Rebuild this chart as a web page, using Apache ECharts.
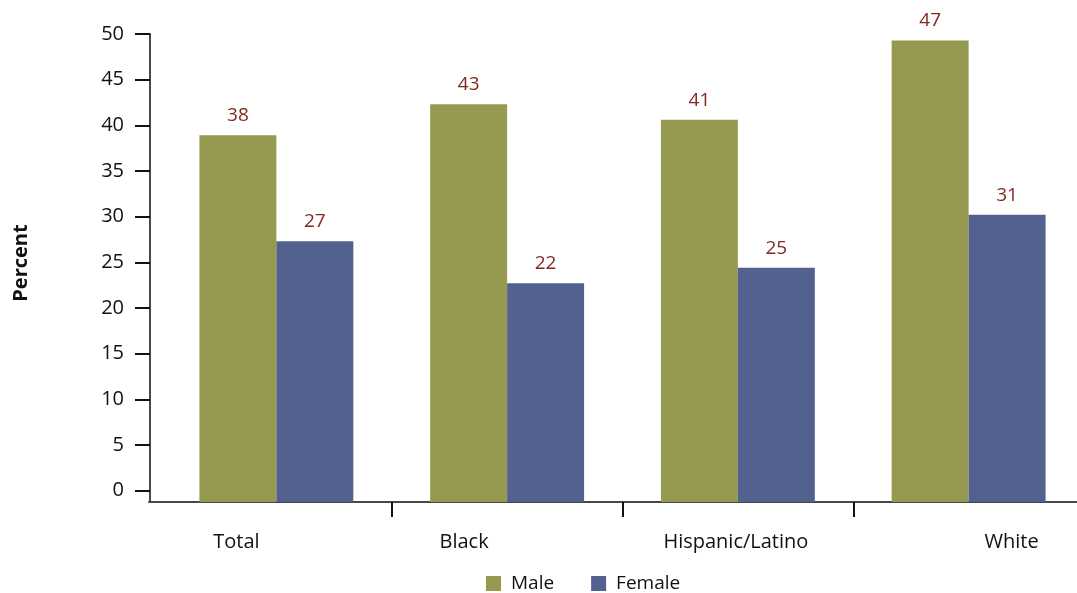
<!DOCTYPE html>
<html><head><meta charset="utf-8">
<script src="https://cdn.jsdelivr.net/npm/echarts@6/dist/echarts.min.js"></script>
<style>html,body{margin:0;padding:0;background:#fff}#c{width:1077px;height:593px}</style>
</head><body><div id="c"></div>
<script>
// ---- data ----
const categories = ['Total', 'Black', 'Hispanic/Latino', 'White'];
const maleValues = [38.9, 42.3, 40.6, 49.3];     // bar heights as drawn
const femaleValues = [27.3, 22.7, 24.4, 30.2];
const maleLabels = ['38', '43', '41', '47'];      // printed value labels
const femaleLabels = ['27', '22', '25', '31'];
const yTicks = [0, 5, 10, 15, 20, 25, 30, 35, 40, 45, 50];
const seriesNames = ['Male', 'Female'];
const yTitle = 'Percent';

// ---- style ----
const FONT = '"Open Sans", "Noto Sans", sans-serif';
const GREEN = '#969a51', BLUE = '#53618f', LABEL = '#7f2a1f', AXIS = '#474747';
const labelShift = [-40, -43, -2, 43];
const rich = {};
labelShift.forEach((s, i) => {
  rich['c' + i] = {
    fontFamily: FONT, fontSize: 20, color: '#111',
    padding: s < 0 ? [0, -2 * s, 0, 0] : [0, 0, 0, 2 * s]
  };
});

const chart = echarts.init(document.getElementById('c'), null, {renderer: 'canvas'});
chart.setOption({
  animation: false,
  backgroundColor: '#fff',
  grid: [
    {left: 161, right: -7, top: 34, bottom: 91, containLabel: false, outerBoundsMode: 'none'},
    {left: 149, right: 0, top: 34, bottom: 91, containLabel: false, outerBoundsMode: 'none'}
  ],
  legend: {
    data: seriesNames,
    left: 486, top: 574, padding: 0,
    itemWidth: 15, itemHeight: 15, itemGap: 37,
    icon: 'rect',
    textStyle: {fontFamily: FONT, fontSize: 19, color: '#111', padding: [0, 0, 0, 5]}
  },
  xAxis: [
    {
      type: 'category', gridIndex: 0, data: categories,
      axisLine: {show: false, onZero: false},
      axisTick: {show: true, length: 15, interval: (i) => i > 0, lineStyle: {color: '#111', width: 2}},
      axisLabel: {
        interval: 0, margin: 30,
        formatter: (v, i) => '{c' + i + '|' + v + '}',
        rich: rich
      }
    },
    {
      type: 'value', gridIndex: 1, min: 0, max: 1,
      axisLine: {show: true, onZero: false, lineStyle: {color: AXIS, width: 2}},
      axisTick: {show: false}, axisLabel: {show: false}, splitLine: {show: false}
    }
  ],
  yAxis: [
    {
      type: 'value', gridIndex: 0, min: -1.25, max: 50, startValue: -1.25, offset: 11,
      name: yTitle, nameLocation: 'middle', nameRotate: 90, nameGap: 119,
      nameTextStyle: {fontFamily: FONT, fontSize: 20, fontWeight: 'bold', color: '#111', padding: [0, 0, 0, 10]},
      axisLine: {show: true, lineStyle: {color: AXIS, width: 2}},
      axisTick: {show: true, length: 15, customValues: yTicks, lineStyle: {color: '#111', width: 2}},
      axisLabel: {customValues: yTicks, margin: 26, fontFamily: FONT, fontSize: 20, color: '#111'},
      splitLine: {show: false}
    },
    {type: 'value', gridIndex: 1, show: false}
  ],
  series: [
    {
      name: seriesNames[0], type: 'bar', xAxisIndex: 0, yAxisIndex: 0,
      data: maleValues, barGap: 0, barCategoryGap: '33.3%',
      itemStyle: {color: GREEN},
      label: {show: true, position: 'top', distance: 10, color: LABEL, fontFamily: FONT, fontSize: 19,
        formatter: (p) => maleLabels[p.dataIndex]}
    },
    {
      name: seriesNames[1], type: 'bar', xAxisIndex: 0, yAxisIndex: 0,
      data: femaleValues, barGap: 0, barCategoryGap: '33.3%',
      itemStyle: {color: BLUE},
      label: {show: true, position: 'top', distance: 10, color: LABEL, fontFamily: FONT, fontSize: 19,
        formatter: (p) => femaleLabels[p.dataIndex]}
    }
  ]
});
</script>
</body></html>
